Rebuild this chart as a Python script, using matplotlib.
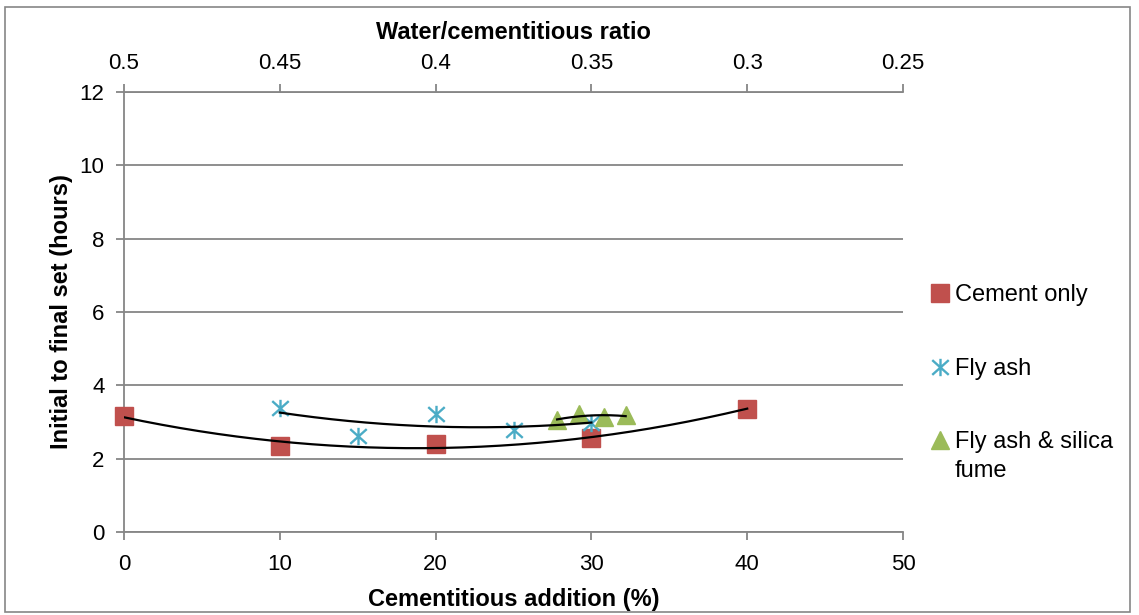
import numpy as np
import matplotlib
matplotlib.use("Agg")
import matplotlib.pyplot as plt
from matplotlib.path import Path
from matplotlib.patches import Rectangle

plt.rcParams['font.family'] = ['Liberation Sans', 'DejaVu Sans']

# Cementitious addition (%) and initial-to-final set time (hours)
cement_x = [0, 10, 20, 30, 40]
cement_y = [3.17, 2.35, 2.40, 2.56, 3.36]

flyash_x = [10, 15, 20, 25, 30]
flyash_y = [3.39, 2.62, 3.23, 2.78, 2.97]

silica_x = [27.8, 29.2, 30.8, 32.2]
silica_y = [3.05, 3.21, 3.13, 3.18]

series_labels = ["Cement only", "Fly ash", "Fly ash & silica"]
label_wrap = "fume"
x_ticks = [0, 10, 20, 30, 40, 50]
y_ticks = [0, 2, 4, 6, 8, 10, 12]
wc_ticks = [0.5, 0.45, 0.4, 0.35, 0.3, 0.25]

RED = "#C0504D"
BLUE = "#4BACC6"
GREEN = "#9BBB59"
GRID = "#868686"
TICK_FS = 16
LABEL_FS = 17
LEG_FS = 17

W, H = 1139, 615
fig = plt.figure(figsize=(W / 100, H / 100), dpi=100)
ax = fig.add_axes([124 / W, 1 - 532 / H, (903 - 124) / W, (532 - 92) / H])

# six-armed star: vertical bar plus an X
star = Path([(0, -1), (0, 1), (-0.95, -0.85), (0.95, 0.85), (-0.95, 0.85), (0.95, -0.85)],
            [Path.MOVETO, Path.LINETO, Path.MOVETO, Path.LINETO, Path.MOVETO, Path.LINETO])

h1, = ax.plot(cement_x, cement_y, ls="none", marker="s", ms=12.5, mfc=RED, mec=RED,
              zorder=3, clip_on=False)
h2, = ax.plot(flyash_x, flyash_y, ls="none", marker=star, ms=12.5, mfc="none", mec=BLUE,
              mew=1.7, zorder=3, clip_on=False)
h3, = ax.plot(silica_x, silica_y, ls="none", marker="^", ms=13, mfc=GREEN, mec=GREEN,
              zorder=3, clip_on=False)

# second-order polynomial trendlines
for xs, ys in [(cement_x, cement_y), (flyash_x, flyash_y), (silica_x, silica_y)]:
    coef = np.polyfit(xs, ys, 2)
    xx = np.linspace(min(xs), max(xs), 200)
    ax.plot(xx, np.polyval(coef, xx), color="black", lw=1.6, zorder=4)

ax.set_xlim(0, 50)
ax.set_ylim(0, 12)
ax.set_xticks(x_ticks)
ax.set_yticks(y_ticks)
ax.set_xticklabels([str(v) for v in x_ticks])
ax.set_yticklabels([str(v) for v in y_ticks])
ax.yaxis.grid(True, color=GRID, lw=1.3)
ax.set_axisbelow(True)

for s in ["top", "right"]:
    ax.spines[s].set_visible(False)
for s in ["left", "bottom"]:
    ax.spines[s].set_color(GRID)
    ax.spines[s].set_linewidth(1.3)
ax.tick_params(axis="both", direction="out", length=6, width=1.3, color=GRID,
               labelsize=TICK_FS, pad=8)
ax.tick_params(axis="x", pad=10)

ax.set_xlabel("Cementitious addition (%)", fontsize=LABEL_FS, fontweight="bold", labelpad=9)
ax.set_ylabel("Initial to final set (hours)", fontsize=LABEL_FS, fontweight="bold", labelpad=5)

# water/cementitious ratio on the top axis
sec = ax.secondary_xaxis("top", functions=(lambda x: 0.5 - 0.005 * x,
                                           lambda w: (0.5 - w) / 0.005))
sec.set_xticks(wc_ticks)
sec.set_xticklabels([f"{v:g}" for v in wc_ticks])
sec.spines["top"].set_color(GRID)
sec.spines["top"].set_linewidth(1.3)
sec.tick_params(direction="out", length=6, width=1.3, color=GRID, labelsize=TICK_FS, pad=7)
sec.set_xlabel("Water/cementitious ratio", fontsize=LABEL_FS, fontweight="bold", labelpad=10)

leg = fig.legend([h1, h2, h3], series_labels, loc="upper left",
                 bbox_to_anchor=(922 / W, 1 - 275 / H), frameon=False, fontsize=LEG_FS,
                 handlelength=0.7, handletextpad=0.3, labelspacing=2.18, borderaxespad=0)
# second line of the last legend label, drawn after the legend is laid out
wrap = plt.Annotation(label_wrap, xy=(0, 0), xycoords=leg.get_texts()[2],
                      xytext=(0, -4.5), textcoords="offset points",
                      va="top", ha="left", fontsize=LEG_FS)
wrap.set_zorder(10)
fig.add_artist(wrap)

fig.patches.append(Rectangle((5 / W, 3 / H), (1130 - 5) / W, (608 - 3) / H,
                             transform=fig.transFigure, fill=False, ec=GRID, lw=1.2))

fig.savefig("out.png", dpi=100)
